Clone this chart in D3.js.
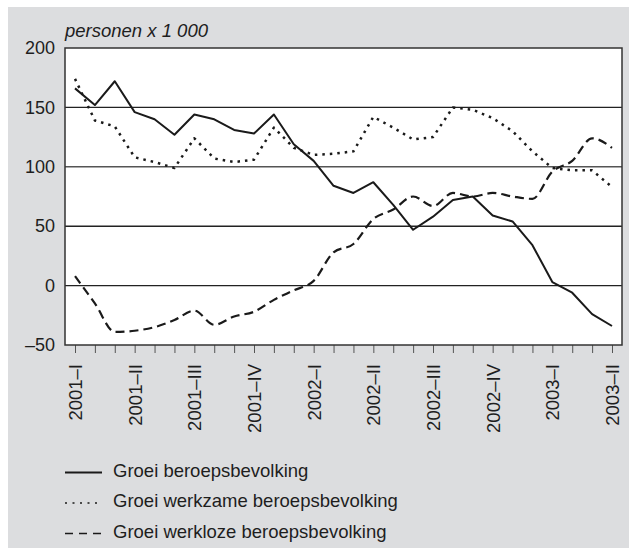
<!DOCTYPE html>
<meta charset="utf-8">
<script src="https://d3js.org/d3.v7.min.js"></script>
<style>
  body { margin: 0; background: #fff; }
  text { font-family: "Liberation Sans", Arial, sans-serif; fill: #1e1e1e; }
</style>
<div id="my_dataviz"></div>
<script>

// monthly points, 2001 jan .. 2003 apr
var months = d3.range(28);
var quarterLabels = ["2001–I", "2001–II", "2001–III", "2001–IV", "2002–I",
                     "2002–II", "2002–III", "2002–IV", "2003–I", "2003–II"];
var yTicks = [-50, 0, 50, 100, 150, 200];

var beroeps = [166, 152, 172, 146, 140, 127, 144, 140, 131, 128, 144, 119, 105, 84,
               78, 87, 68, 47, 58, 72, 75, 59, 54, 34, 3, -6, -24, -34];
var werkzaam = [174, 139, 134, 108, 104, 99, 124, 107, 104, 106, 133, 116, 110, 111,
                113, 142, 133, 123, 125, 150, 148, 141, 130, 113, 99, 97, 97, 83];
var werkloos = [8, -15, -39, -38, -35, -29, -21, -33, -26, -22, -12, -4, 4, 28,
                35, 56, 64, 75, 67, 78, 75, 78, 75, 73, 96, 105, 124, 116];

var series = [
  {name: "Groei beroepsbevolking", values: beroeps, dash: null, width: 2, curve: d3.curveLinear, legDash: null},
  {name: "Groei werkzame beroepsbevolking", values: werkzaam, dash: "2.5,5", width: 2.5, curve: d3.curveLinear, legDash: "2,5.5"},
  {name: "Groei werkloze beroepsbevolking", values: werkloos, dash: "9,5", width: 2.2, curve: d3.curveMonotoneX, legDash: "8,6"}
];

var W = 629, H = 548;
var margin = {top: 48, right: 7, bottom: 203, left: 65},
    width = W - margin.left - margin.right,
    height = H - margin.top - margin.bottom;

var root = d3.select("#my_dataviz")
  .append("svg")
    .attr("width", W)
    .attr("height", H);

// grey panel
root.append("rect")
  .attr("x", 8).attr("y", 7)
  .attr("width", W - 8).attr("height", H - 7)
  .attr("fill", "#dcdddf");

var svg = root.append("g")
  .attr("transform", "translate(" + margin.left + "," + margin.top + ")");

svg.append("rect")
  .attr("width", width).attr("height", height)
  .attr("fill", "#fff");

var x = d3.scalePoint()
  .domain(months)
  .range([10, width - 10]);

var y = d3.scaleLinear()
  .domain([-50, 200])
  .range([height, 0]);

// horizontal grid
svg.append("g")
  .selectAll("line")
  .data([0, 50, 100, 150])
  .enter()
  .append("line")
    .attr("x1", 0).attr("x2", width)
    .attr("y1", function(d) { return y(d); })
    .attr("y2", function(d) { return y(d); })
    .attr("stroke", function(d) { return d == 100 ? "#555" : "#222"; })
    .attr("stroke-width", 1.4);

// Y axis
var yAxis = svg.append("g")
  .call(d3.axisLeft(y).tickValues(yTicks).tickSize(0).tickPadding(10)
    .tickFormat(function(d) { return d < 0 ? "–" + Math.abs(d) : d; }));
yAxis.select(".domain").remove();
yAxis.selectAll("text")
  .style("font-size", "18px")
  .attr("fill", "#1e1e1e");

// X axis: ticks every month, labels every quarter
var xAxis = svg.append("g")
  .attr("transform", "translate(0," + height + ")")
  .call(d3.axisBottom(x).tickSize(8).tickFormat(function(d) {
    return d % 3 == 0 ? quarterLabels[d / 3] : "";
  }));
xAxis.select(".domain").remove();
xAxis.selectAll("line").attr("stroke", "#555").attr("stroke-width", 1);
xAxis.selectAll("text")
  .style("font-size", "18.5px")
  .attr("fill", "#1e1e1e")
  .attr("text-anchor", "end")
  .attr("transform", "rotate(-90)")
  .attr("x", -19)
  .attr("y", 0)
  .attr("dy", "0.35em");

// frame
svg.append("rect")
  .attr("width", width).attr("height", height)
  .attr("fill", "none")
  .attr("stroke", "#333")
  .attr("stroke-width", 1.5);

// lines
series.forEach(function(s) {
  var line = d3.line()
    .x(function(d, i) { return x(i); })
    .y(function(d) { return y(d); })
    .curve(s.curve);
  svg.append("path")
    .datum(s.values)
    .attr("fill", "none")
    .attr("stroke", "#1a1a1a")
    .attr("stroke-width", s.width)
    .attr("stroke-dasharray", s.dash)
    .attr("stroke-linejoin", "round")
    .attr("d", line);
});

// unit label
root.append("text")
  .attr("x", 65).attr("y", 37)
  .style("font-size", "18.5px")
  .style("font-style", "italic")
  .text("personen x 1 000");

// legend
var legend = root.append("g")
  .selectAll("g")
  .data(series)
  .enter()
  .append("g")
    .attr("transform", function(d, i) { return "translate(65," + (470.5 + i * 30.5) + ")"; });

legend.append("line")
  .attr("x1", 0).attr("x2", 37)
  .attr("y1", 2).attr("y2", 2)
  .attr("stroke", "#1a1a1a")
  .attr("stroke-width", function(d) { return d.dash == null ? 2.2 : 1.6; })
  .attr("stroke-dasharray", function(d) { return d.legDash; });

legend.append("text")
  .attr("x", 48)
  .attr("dy", "0.35em")
  .style("font-size", "18.5px")
  .text(function(d) { return d.name; });

</script>
